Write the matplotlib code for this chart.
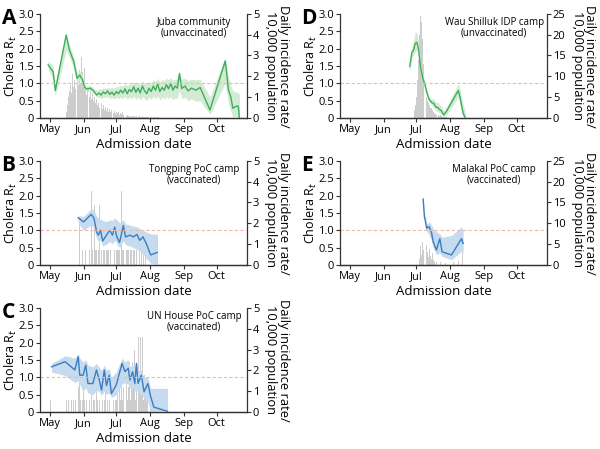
import numpy as np
import matplotlib
matplotlib.use("Agg")
import matplotlib.pyplot as plt

plt.rcParams['font.family'] = ['Open Sans', 'DejaVu Sans']

# days counted from May 1 (May 1 = 0)
month_days = [0, 31, 61, 92, 123, 153]
month_labels = ['May', 'Jun', 'Jul', 'Aug', 'Sep', 'Oct']

# ---- A: Juba community ----
a_days = [-1.5, 3, 5, 15, 18, 22, 25, 27.5, 30, 32, 34, 37, 40, 43,
          45, 47, 49, 51, 53, 55, 57, 59, 61, 63, 65, 67, 69, 71, 73, 75, 77, 79, 81, 83, 85, 87, 89,
          91, 93, 95, 97, 99, 101, 103, 105, 107, 109, 111, 113, 115, 117,
          119, 121, 124, 127, 130, 134, 138,
          147, 161, 164, 166, 168, 171, 173, 174]
a_rt = [1.53, 1.33, 0.79, 2.39, 1.96, 1.62, 1.14, 1.24, 1.10, 0.88, 0.83, 0.86, 0.79, 0.66,
        0.72, 0.66, 0.75, 0.70, 0.78, 0.68, 0.74, 0.66, 0.76, 0.70, 0.80, 0.72, 0.84, 0.70, 0.82, 0.76, 0.90, 0.74, 0.86, 0.72, 0.92, 0.78, 0.70,
        0.86, 0.76, 0.92, 0.80, 0.98, 0.76, 0.88, 0.80, 0.96, 0.84, 1.00, 0.80, 0.92, 0.86,
        1.28, 0.85, 0.92, 0.78, 0.86, 0.80, 0.88,
        0.23, 1.64, 0.80, 0.62, 0.28, 0.34, 0.34, 0.0]
a_lo = [1.38, 1.15, 0.62, 1.95, 1.75, 1.45, 1.00, 1.10, 0.98, 0.80, 0.76, 0.78, 0.72, 0.60,
        0.60, 0.56, 0.60, 0.58, 0.62, 0.56, 0.60, 0.54, 0.60, 0.56, 0.60, 0.56, 0.62, 0.54, 0.60, 0.56, 0.62, 0.54, 0.60, 0.52, 0.62, 0.56, 0.50,
        0.60, 0.54, 0.62, 0.56, 0.64, 0.52, 0.60, 0.55, 0.62, 0.56, 0.62, 0.52, 0.58, 0.56,
        0.80, 0.56, 0.60, 0.50, 0.55, 0.48, 0.50,
        0.10, 1.00, 0.40, 0.20, 0.0, 0.0, 0.0, 0.0]
a_hi = [1.65, 1.50, 0.98, 2.42, 2.10, 1.75, 1.30, 1.35, 1.22, 0.98, 0.92, 0.94, 0.86, 0.80,
        0.84, 0.84, 0.86, 0.86, 0.88, 0.86, 0.88, 0.86, 0.90, 0.90, 0.94, 0.92, 0.98, 0.94, 0.98, 0.98, 1.04, 0.98, 1.02, 0.98, 1.06, 1.02, 0.98,
        1.04, 1.02, 1.10, 1.06, 1.14, 1.04, 1.10, 1.08, 1.14, 1.10, 1.16, 1.08, 1.12, 1.12,
        1.30, 1.12, 1.15, 1.08, 1.12, 1.10, 1.12,
        0.60, 1.75, 1.20, 0.95, 0.78, 0.75, 0.72, 0.70]
a_inc_start = 15
a_inc = [0.3, 0.6, 1.0, 1.3, 1.6, 1.2, 2.1, 1.5, 1.8, 1.4, 2.0, 1.6, 2.3, 1.7, 2.95, 2.2, 1.5, 2.4, 1.3, 1.1, 1.4,
         1.0, 1.3, 0.9, 1.2, 0.8, 1.0, 0.7, 0.9, 0.6, 0.7, 0.5, 0.7, 0.45, 0.6, 0.4, 0.55, 0.35, 0.5, 0.3, 0.45,
         0.3, 0.4, 0.25, 0.35, 0.2, 0.3, 0.25, 0.3, 0.15, 0.25, 0.2, 0.3, 0.15, 0.2, 0.1,
         0.12, 0.08, 0.1, 0.06, 0.1, 0.05, 0.08, 0.1, 0.05, 0.08, 0.06, 0.1, 0.05, 0.04, 0.08, 0.05, 0.03,
         0.06, 0.04, 0.05, 0.03, 0.05, 0.04, 0.02, 0.05, 0.03, 0.04, 0.02, 0.03, 0.05, 0.02]

# ---- B: Tongping PoC camp ----
b_days = [26, 31, 38, 40.5, 43, 44.5, 46.5, 48.5, 52, 55, 57.5, 59.5, 61.5, 64, 67.5, 69.5,
          73.5, 76.5, 80, 82.5, 85.5, 88.5, 92.5, 98.5]
b_rt = [1.36, 1.24, 1.46, 1.35, 0.95, 0.86, 1.00, 0.69, 0.86, 1.00, 0.86, 1.09, 0.81, 0.65, 1.14, 0.81,
        0.86, 0.81, 0.88, 0.71, 0.81, 0.62, 0.29, 0.36]
b_lo = [1.20, 1.00, 1.15, 1.05, 0.75, 0.70, 0.72, 0.55, 0.60, 0.68, 0.60, 0.72, 0.60, 0.50, 0.70, 0.58,
        0.55, 0.50, 0.45, 0.40, 0.30, 0.20, 0.05, 0.0]
b_hi = [1.42, 1.40, 1.62, 1.58, 1.40, 1.35, 1.32, 1.28, 1.25, 1.30, 1.28, 1.35, 1.30, 1.22, 1.30, 1.18,
        1.15, 1.12, 1.10, 1.05, 1.00, 0.95, 0.90, 0.88]
b_inc_days = [27, 30, 33, 36, 38, 39, 41, 42, 43, 45, 46, 47, 49, 50, 52, 53, 54, 56, 59, 61,
              62, 63, 64, 66, 67, 68, 70, 71, 72, 74, 75, 77, 78, 80, 82, 84, 86, 88, 99]
b_inc = [2.14, 0.71, 0.71, 0.71, 3.57, 0.71, 2.86, 0.71, 0.71, 0.71, 2.86, 0.71, 0.71, 0.71, 0.71, 0.71, 0.71, 0.71, 0.71, 0.71,
         0.71, 0.71, 0.71, 3.57, 0.71, 0.71, 0.71, 0.71, 0.71, 0.71, 0.71, 0.71, 0.71, 0.71, 0.71, 0.71, 0.71, 0.71, 1.43]

# ---- C: UN House PoC camp ----
c_days = [1.5, 14, 23, 26, 27.5, 30.5, 33, 35, 39.5, 42.8, 45, 47.5, 50, 52, 54.5, 56.5, 61,
          66.3, 69, 72, 73.5, 76, 78, 79.5, 81, 84, 86.5, 90, 92.5, 95.5, 108]
c_rt = [1.30, 1.45, 1.21, 1.59, 1.06, 1.06, 1.35, 0.82, 0.82, 1.21, 0.97, 0.63, 1.21, 0.76, 1.06, 0.53, 0.78,
        1.40, 1.16, 1.26, 0.92, 1.16, 0.82, 1.40, 0.82, 1.06, 0.58, 0.82, 0.45, 0.14, 0.02]
c_lo = [1.15, 1.05, 0.85, 0.90, 0.80, 0.60, 0.70, 0.55, 0.50, 0.62, 0.60, 0.48, 0.60, 0.50, 0.55, 0.42, 0.50,
        0.80, 0.85, 0.80, 0.70, 0.70, 0.60, 0.65, 0.55, 0.50, 0.40, 0.30, 0.0, 0.0, 0.0]
c_hi = [1.40, 1.62, 1.55, 1.68, 1.55, 1.45, 1.50, 1.35, 1.30, 1.40, 1.30, 1.20, 1.35, 1.20, 1.25, 1.00, 1.15,
        1.55, 1.45, 1.50, 1.30, 1.35, 1.30, 1.45, 1.20, 1.20, 1.00, 1.00, 0.68, 0.68, 0.68]
c_inc_days = [1, 15, 17, 20, 22, 24, 26, 27, 28, 30, 31, 32, 34, 36, 38, 40, 41, 43, 44, 46, 48, 50, 51,
              53, 55, 58, 60, 61, 62, 64, 65, 66, 67, 68, 70, 71, 72, 73, 74, 75, 76, 77, 78, 79, 80,
              81, 82, 83, 84, 85, 86, 87, 88, 89, 90, 92]
c_inc = [0.6, 0.6, 0.6, 0.6, 0.6, 0.6, 1.2, 2.4, 0.6, 0.6, 1.8, 0.6, 0.6, 0.6, 1.2, 0.6, 0.6, 1.2, 0.6, 0.6, 0.6, 0.6, 1.2,
         0.6, 0.6, 0.6, 0.6, 0.6, 1.2, 1.2, 0.6, 1.8, 0.6, 1.2, 1.8, 0.6, 1.2, 2.4, 0.6, 1.2, 2.4, 1.2, 3.0, 0.6, 1.8,
         3.6, 1.2, 3.6, 1.8, 3.6, 0.6, 1.8, 1.2, 0.6, 1.2, 0.6]

# ---- D: Wau Shilluk IDP camp ----
d_days = [55, 57, 58.5, 60, 61.5, 63, 65, 67, 69, 71, 73, 75, 77, 79, 81, 82, 84, 86, 88.5, 99.5, 101, 104, 106]
d_rt = [1.48, 1.90, 1.95, 2.15, 2.18, 2.00, 1.45, 1.15, 0.95, 0.70, 0.52, 0.45, 0.42, 0.31, 0.30, 0.25, 0.21,
        0.09, 0.18, 0.79, 0.62, 0.14, 0.0]
d_lo = [1.30, 1.75, 1.80, 1.90, 1.95, 1.80, 1.35, 1.05, 0.88, 0.63, 0.45, 0.38, 0.30, 0.20, 0.18, 0.15, 0.10,
        0.03, 0.08, 0.60, 0.40, 0.0, 0.0]
d_hi = [1.60, 2.05, 2.20, 2.50, 2.45, 2.20, 1.60, 1.25, 1.02, 0.78, 0.60, 0.55, 0.55, 0.45, 0.45, 0.40, 0.35,
        0.20, 0.30, 0.98, 0.85, 0.40, 0.15]
d_inc_start = 59
d_inc = [2, 3, 5, 9, 14, 20, 24.5, 23, 19, 13, 8, 5, 4, 3.5, 3, 2.5, 2.5, 2, 1.5, 1.2, 1, 0.8,
         0.6, 0.5, 0.6, 0.4, 0.3, 0.4, 0.2, 0.3, 0.2, 0.1]

# ---- E: Malakal PoC camp ----
e_days = [67.3, 68.5, 69.5, 70.5, 71.5, 72.8, 75, 76.5, 79.5, 82.6, 84.7, 93.3, 102.5, 104]
e_rt = [1.90, 1.38, 1.24, 1.05, 1.10, 1.10, 0.93, 0.67, 0.43, 0.76, 0.38, 0.29, 0.76, 0.62]
e_lo = [1.85, 1.30, 1.15, 0.95, 0.95, 0.85, 0.70, 0.50, 0.30, 0.35, 0.25, 0.15, 0.40, 0.35]
e_hi = [1.95, 1.50, 1.40, 1.20, 1.20, 1.25, 1.15, 1.05, 0.95, 0.90, 0.80, 0.85, 1.10, 1.00]
e_inc_days = [64, 65, 66, 67, 68, 69, 70, 71, 72, 73, 74, 75, 76, 77, 78, 80, 83, 88, 95, 100, 103]
e_inc = [1.5, 4.5, 2.5, 5.5, 3.5, 2.0, 4.8, 3.0, 1.8, 3.8, 2.2, 1.5, 2.8, 1.2, 0.8, 0.6, 0.8, 0.5, 0.6, 1.0, 3.2]

green, green_band = '#3dae5a', '#d3ebd4'
blue, blue_band = '#3a7dc0', '#c6dbef'
bar_col = '#cdcdcd'
spine_col = '#333333'

fig = plt.figure(figsize=(6.0, 4.49), dpi=100)


def panel(rect, letter, title, days, rt, lo, hi, inc_days, inc, inc_max, col, band):
    ax = fig.add_axes(rect)
    ax2 = ax.twinx()
    ax.set_zorder(ax2.get_zorder() + 1)
    ax.patch.set_visible(False)

    ax2.bar(inc_days, inc, width=0.9, color=bar_col, linewidth=0)
    ax.fill_between(days, lo, hi, color=band, linewidth=0)
    ax.plot(days, rt, color=col, lw=1.0)
    ax.axhline(1.0, color='#f2b8a2', lw=0.8, ls=(0, (3, 2)))

    ax.set_xlim(-9, 181)
    ax.set_ylim(0, 3.0)
    ax2.set_ylim(0, inc_max)
    ax.set_yticks([0, 0.5, 1.0, 1.5, 2.0, 2.5, 3.0])
    ax.set_yticklabels(['0', '0.5', '1.0', '1.5', '2.0', '2.5', '3.0'])
    ax2.set_yticks(np.linspace(0, inc_max, 6))
    ax2.set_yticklabels([str(int(v)) for v in np.linspace(0, inc_max, 6)])
    ax.set_xticks(month_days)
    ax.set_xticklabels(month_labels)

    for a in (ax, ax2):
        a.spines['top'].set_visible(False)
        for s in a.spines.values():
            s.set_color(spine_col)
            s.set_linewidth(0.9)
        a.tick_params(labelsize=8, length=3, width=0.8, color=spine_col, pad=1.2)
    ax.spines['right'].set_visible(False)
    ax2.spines['left'].set_visible(False)

    ax.set_xlabel('Admission date', fontsize=9.5, labelpad=2)
    ax.set_ylabel('Cholera R$_t$', fontsize=9)
    ax.yaxis.set_label_coords(-0.1, 0.5)
    ax2.set_ylabel('Daily incidence rate/\n10,000 population', fontsize=9.3,
                   rotation=270, labelpad=22, linespacing=0.95)
    ax.text(0.745, 0.97, title, transform=ax.transAxes, ha='center', va='top',
            fontsize=7, linespacing=1.0)
    fig.text(rect[0] - 0.064, rect[1] + rect[3] + 0.012, letter, fontsize=15,
             fontweight='bold', va='top', ha='left')
    return ax


left1, left2, w, h = 0.0667, 0.5667, 0.345, 0.232
panel([left1, 0.7372, w, h], 'A', 'Juba community\n(unvaccinated)',
      a_days, a_rt, a_lo, a_hi, a_inc_start + np.arange(len(a_inc)), a_inc, 5, green, green_band)
panel([left1, 0.4098, w, h], 'B', 'Tongping PoC camp\n(vaccinated)',
      b_days, b_rt, b_lo, b_hi, b_inc_days, b_inc, 5, blue, blue_band)
panel([left1, 0.0824, w, h], 'C', 'UN House PoC camp\n(vaccinated)',
      c_days, c_rt, c_lo, c_hi, c_inc_days, c_inc, 5, blue, blue_band)
panel([left2, 0.7372, w, h], 'D', 'Wau Shilluk IDP camp\n(unvaccinated)',
      d_days, d_rt, d_lo, d_hi, d_inc_start + np.arange(len(d_inc)), d_inc, 25, green, green_band)
panel([left2, 0.4098, w, h], 'E', 'Malakal PoC camp\n(vaccinated)',
      e_days, e_rt, e_lo, e_hi, e_inc_days, e_inc, 25, blue, blue_band)

fig.savefig('out.png', dpi=100)
